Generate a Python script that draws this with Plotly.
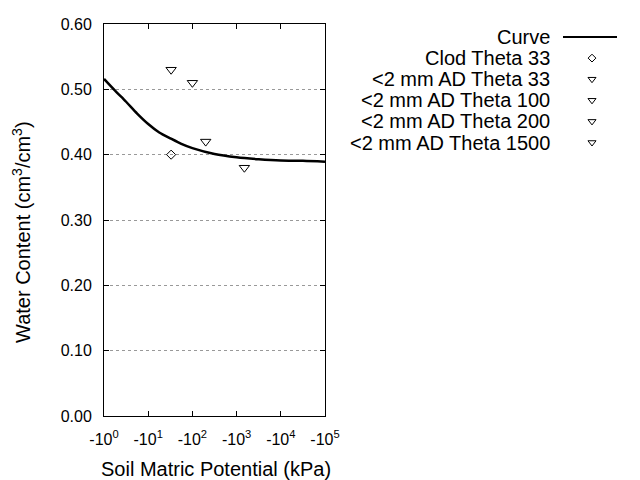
import plotly.graph_objects as go

# ---------------- data ----------------
curve_psi = [1, 1.78, 3.16, 5.62, 10, 17.8, 31.6, 56.2, 100, 316, 1000, 3162, 10000, 31623, 100000]
curve_theta = [0.516, 0.498, 0.481, 0.463, 0.447, 0.434, 0.425, 0.4165, 0.410, 0.401, 0.396, 0.393, 0.391, 0.3905, 0.389]

clod_psi = [33]
clod_theta = [0.40]

ad_labels = ["<2 mm AD Theta 33", "<2 mm AD Theta 100", "<2 mm AD Theta 200", "<2 mm AD Theta 1500"]
ad_psi = [33, 100, 200, 1500]
ad_theta = [0.53, 0.51, 0.42, 0.38]

legend_labels = ["Curve", "Clod Theta 33"] + ad_labels

x_tickvals = [1, 10, 100, 1000, 10000, 100000]
x_ticktext = ["-10<sup>0</sup>", "-10<sup>1</sup>", "-10<sup>2</sup>", "-10<sup>3</sup>", "-10<sup>4</sup>", "-10<sup>5</sup>"]
y_tickvals = [0.0, 0.1, 0.2, 0.3, 0.4, 0.5, 0.6]

# ---------------- layout constants (pixels) ----------------
W, H = 640, 480
PL, PR, PT, PB = 104, 325, 24, 416
FONT = "Liberation Sans, Arial, sans-serif"

fig = go.Figure()

fig.add_trace(go.Scatter(x=curve_psi, y=curve_theta, mode="lines",
                         line=dict(color="black", width=2.5, shape="spline", smoothing=0.8),
                         showlegend=False, xaxis="x", yaxis="y"))
fig.add_trace(go.Scatter(x=clod_psi, y=clod_theta, mode="markers",
                         marker=dict(symbol="diamond-open", size=7, color="black", line=dict(width=1)),
                         showlegend=False, xaxis="x", yaxis="y"))
for i in range(len(ad_psi)):
    fig.add_trace(go.Scatter(x=[ad_psi[i]], y=[ad_theta[i]], mode="markers", name=ad_labels[i],
                             marker=dict(symbol="triangle-down-open", size=9, color="black", line=dict(width=1)),
                             showlegend=False, xaxis="x", yaxis="y"))

# ---------------- manual legend (symbol right of right-aligned text) ----------------
LX_TEXT = 552
LY0, LDY = 37, 21.1
LX_SYM = 592
annotations = []
for i, lab in enumerate(legend_labels):
    yy = LY0 + LDY * i
    annotations.append(dict(text=lab, x=LX_TEXT / W, y=1 - yy / H, xref="paper", yref="paper",
                            xanchor="right", yanchor="middle", showarrow=False,
                            font=dict(family=FONT, size=20, color="black")))
fig.add_trace(go.Scatter(x=[563, 617], y=[LY0, LY0], mode="lines", line=dict(color="black", width=2),
                         showlegend=False, xaxis="x2", yaxis="y2", hoverinfo="skip"))
fig.add_trace(go.Scatter(x=[LX_SYM], y=[LY0 + LDY], mode="markers",
                         marker=dict(symbol="diamond-open", size=6, color="black", line=dict(width=1)),
                         showlegend=False, xaxis="x2", yaxis="y2", hoverinfo="skip"))
fig.add_trace(go.Scatter(x=[LX_SYM] * len(ad_labels), y=[LY0 + LDY * (i + 2) for i in range(len(ad_labels))],
                         mode="markers",
                         marker=dict(symbol="triangle-down-open", size=7, color="black", line=dict(width=1)),
                         showlegend=False, xaxis="x2", yaxis="y2", hoverinfo="skip"))

# axis titles
annotations.append(dict(text="Soil Matric Potential (kPa)", x=216 / W, y=1 - 469 / H, xref="paper", yref="paper",
                        xanchor="center", yanchor="middle", showarrow=False,
                        font=dict(family=FONT, size=20, color="black")))
annotations.append(dict(text="Water Content (cm<sup>3</sup>/cm<sup>3</sup>)", x=21 / W, y=1 - 232 / H,
                        xref="paper", yref="paper", xanchor="center", yanchor="middle", showarrow=False,
                        textangle=-90, font=dict(family=FONT, size=20, color="black")))

fig.update_layout(
    width=W, height=H,
    margin=dict(l=0, r=0, t=0, b=0, autoexpand=False),
    paper_bgcolor="white", plot_bgcolor="rgba(0,0,0,0)",
    showlegend=False,
    annotations=annotations,
    xaxis=dict(type="log", domain=[PL / W, PR / W], range=[0, 5], anchor="y",
               tickvals=x_tickvals, ticktext=x_ticktext, ticks="inside", ticklen=5, tickcolor="black",
               showline=True, linecolor="black", linewidth=1, mirror="ticks", showgrid=False, zeroline=False,
               tickfont=dict(family=FONT, size=16, color="black"), ticklabelstandoff=9),
    yaxis=dict(domain=[1 - PB / H, 1 - PT / H], range=[0, 0.6], anchor="x",
               tickvals=y_tickvals, tickformat=".2f", ticks="inside", ticklen=5, tickcolor="black",
               showline=True, linecolor="black", linewidth=1, mirror="ticks",
               showgrid=True, gridcolor="#999999", griddash="dot", gridwidth=1, zeroline=False,
               tickfont=dict(family=FONT, size=16, color="black"), ticklabelstandoff=8),
    xaxis2=dict(domain=[0, 1], range=[0, W], anchor="y2", visible=False, fixedrange=True),
    yaxis2=dict(domain=[0, 1], range=[H, 0], anchor="x2", visible=False, fixedrange=True),
)

fig.write_html("out.html")
